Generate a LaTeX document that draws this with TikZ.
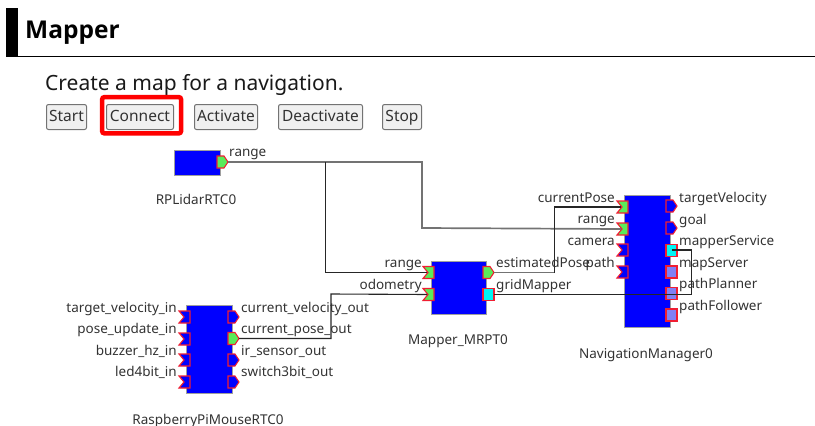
\documentclass[tikz,border=0pt]{standalone}
\usepackage{fontspec}
\setmainfont{Noto Sans}
\newfontfamily\titlefont{Open Sans}[BoldFont=* Bold]
\definecolor{rtblue}{RGB}{0,0,255}
\definecolor{rtgreen}{RGB}{90,235,90}
\definecolor{rtcyan}{RGB}{0,245,245}
\definecolor{rtlilac}{RGB}{128,128,245}
\definecolor{txt}{RGB}{50,50,50}
\definecolor{portred}{RGB}{240,30,50}
\tikzset{
  x=1pt,y=-1pt,
  block/.style={draw=gray!75,line width=1pt,fill=rtblue,inner sep=0pt,anchor=north west},
  port/.style={draw=portred,line width=1.1pt,line join=miter},
  lab/.style={font=\fontsize{13.5}{15}\selectfont,text=txt,inner sep=0pt,text height=10pt,text depth=3pt},
  lableft/.style={lab,anchor=east},
  labright/.style={lab,anchor=west},
  caplab/.style={lab,anchor=center},
  btn/.style={draw=black!55,line width=1pt,fill=black!6,rounded corners=2pt,inner sep=0pt,anchor=north west,font=\fontsize{15.5}{17}\selectfont,text=txt,text height=11.5pt,text depth=3.5pt},
  wiregray/.style={draw=black!55,line width=1.7pt},
  wirethin/.style={draw=black!85,line width=1.1pt},
}
% x = left edge, y = centre
\newcommand{\inport}[4]{%
  \filldraw[port,fill=#4] (#2,#3-6) -- (#2+11,#3-6) -- (#2+11,#3+6) -- (#2,#3+6) -- (#2+5,#3) -- cycle;
  \coordinate (#1) at (#2+4,#3);}
\newcommand{\outport}[4]{%
  \filldraw[port,fill=#4] (#2,#3-6) -- (#2+7,#3-6) -- (#2+11,#3) -- (#2+7,#3+6) -- (#2,#3+6) -- cycle;
  \coordinate (#1) at (#2+11,#3);}
\newcommand{\svcport}[4]{%
  \filldraw[port,fill=#4] (#2,#3-6) rectangle (#2+11,#3+6);
  \coordinate (#1) at (#2+11,#3);}
\begin{document}
\begin{tikzpicture}
\useasboundingbox (0,0) rectangle (815,426);
% header
\fill[black] (6,8) rectangle (18,56);
\draw[line width=1pt] (6,56.5) -- (815,56.5);
\node[anchor=west,inner sep=0pt,font=\titlefont\bfseries\fontsize{24.5}{26}\selectfont] (title) at (25,33) {Mapper};
\node[anchor=west,inner sep=0pt,font=\fontsize{21}{23}\selectfont,text=black!90] (sub) at (45,85) {Create a map for a navigation.};
% buttons
\node[btn,minimum width=40pt,minimum height=25pt] (bstart) at (46,104) {Start};
\node[btn,minimum width=67pt,minimum height=25pt] (bconn) at (106,104) {Connect};
\draw[red,line width=4.5pt,rounded corners=2pt] (102.2,97.2) rectangle (181,133.3);
\node[btn,minimum width=63pt,minimum height=25pt] (bact) at (194,104) {Activate};
\node[btn,minimum width=84pt,minimum height=25pt] (bdeact) at (278,104) {Deactivate};
\node[btn,minimum width=39pt,minimum height=25pt] (bstop) at (382,104) {Stop};
% blocks
\node[block,minimum width=46pt,minimum height=25pt] (lidar) at (174,150) {};
\node[block,minimum width=55pt,minimum height=53pt] (mapper) at (431,261) {};
\node[block,minimum width=46pt,minimum height=132pt] (nav) at (624,195) {};
\node[block,minimum width=46pt,minimum height=88pt] (rasp) at (186,305) {};
% ports
\outport{lr}{217}{162}{rtgreen}
\inport{mr}{423}{272.5}{rtgreen}
\inport{mo}{423}{294.5}{rtgreen}
\outport{me}{483}{272.5}{rtgreen}
\svcport{mg}{483}{294.5}{rtcyan}
\inport{nc}{617}{207}{rtgreen}
\inport{nr}{617}{229}{rtgreen}
\inport{nca}{617}{250}{rtblue}
\inport{npa}{617}{272}{rtblue}
\outport{ntv}{666}{206}{rtblue}
\outport{ngo}{666}{228}{rtblue}
\svcport{nms}{666}{250.5}{rtcyan}
\svcport{nmp}{666}{272}{rtlilac}
\svcport{npp}{666}{293.5}{rtlilac}
\svcport{npf}{666}{315}{rtlilac}
\inport{ri1}{179}{317}{rtblue}
\inport{ri2}{179}{339}{rtblue}
\inport{ri3}{179}{360}{rtblue}
\inport{ri4}{179}{382}{rtblue}
\outport{ro1}{228}{317}{rtblue}
\outport{ro2}{228}{338.5}{rtgreen}
\outport{ro3}{228}{360}{rtblue}
\outport{ro4}{228}{382}{rtblue}
% connectors
\coordinate (j1) at (325.5,162);
\draw[wiregray] (lr) -- (422,162) -- (422,228) -- (nr);
\draw[wirethin] (j1) -- (325.5,272.5) -- (mr);
\draw[wiregray] (me) -- (554.5,272.5);
\draw[wirethin] (554.5,273) -- (554.5,207) -- (nc);
\draw[wirethin] (mg) -- (691.5,294.5) -- (691.5,250) -- (672,250);
\draw[wirethin] (ro2) -- (331,338.5) -- (331,294) -- (mo);
% labels
\node[labright] (t1) at (229,153) {range};
\node[caplab] (c1) at (196,201) {RPLidarRTC0};
\node[lableft] (t2) at (422,264) {range};
\node[lableft] (t3) at (422,286) {odometry};
\node[labright] (t4) at (496,264) {estimatedPose};
\node[labright] (t5) at (496,286) {gridMapper};
\node[caplab] (c2) at (458,341) {Mapper\_MRPT0};
\node[lableft] (t6) at (615,198.5) {currentPose};
\node[lableft] (t7) at (615,220) {range};
\node[lableft] (t8) at (615,242) {camera};
\node[lableft] (t9) at (615,264) {path};
\node[labright] (t10) at (679,198.5) {targetVelocity};
\node[labright] (t11) at (679,220.5) {goal};
\node[labright] (t12) at (679,242) {mapperService};
\node[labright] (t13) at (679,264) {mapServer};
\node[labright] (t14) at (679,285) {pathPlanner};
\node[labright] (t15) at (679,307) {pathFollower};
\node[caplab] (c3) at (646,355) {NavigationManager0};
\node[lableft] (t16) at (177,309) {target\_velocity\_in};
\node[lableft] (t17) at (177,330) {pose\_update\_in};
\node[lableft] (t18) at (177,352) {buzzer\_hz\_in};
\node[lableft] (t19) at (177,373) {led4bit\_in};
\node[labright] (t20) at (241,309) {current\_velocity\_out};
\node[labright] (t21) at (241,330) {current\_pose\_out};
\node[labright] (t22) at (241,352) {ir\_sensor\_out};
\node[labright] (t23) at (241,373) {switch3bit\_out};
\node[caplab] (c4) at (208,421) {RaspberryPiMouseRTC0};
\end{tikzpicture}
\end{document}
